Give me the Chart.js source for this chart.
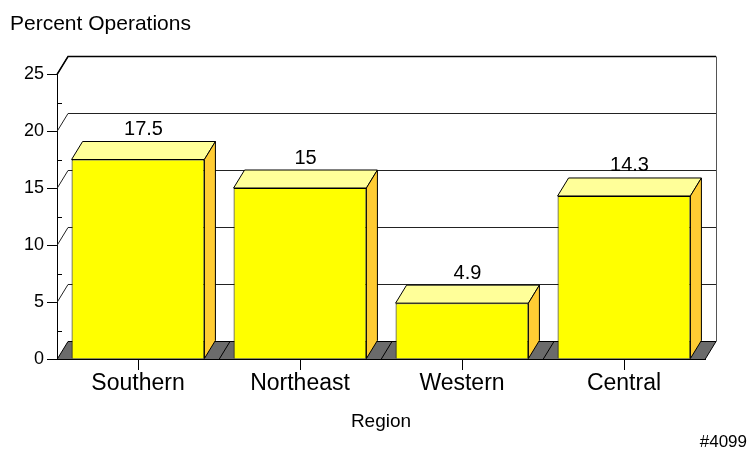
<!DOCTYPE html>
<html>
<head>
<meta charset="utf-8">
<script src="https://cdn.jsdelivr.net/npm/chart.js@4"></script>
<style>
  body { margin: 0; background: #fff; }
  canvas { display: block; }
</style>
</head>
<body>
<canvas id="chart" width="748" height="449"></canvas>
<script>
const regions = ['Southern', 'Northeast', 'Western', 'Central'];
const percentOps = [17.5, 15, 4.9, 14.3];
const yTicks = [0, 5, 10, 15, 20, 25];

const DX = 11, DY = 18; // depth of the fake 3d
const FONT = '"Liberation Sans", Arial, sans-serif';

// back wall, left wall lines and the grey floor
const wallPlugin = {
  id: 'wall',
  beforeDatasetsDraw(chart) {
    const ctx = chart.ctx;
    const y = chart.scales.y;
    const left = chart.chartArea.left, right = chart.chartArea.right;
    ctx.save();
    ctx.lineWidth = 1;
    ctx.strokeStyle = '#222';
    yTicks.forEach(v => {
      if (v === 0) return;
      const py = Math.round(y.getPixelForValue(v)) + 0.5;
      ctx.beginPath();
      ctx.moveTo(left, py);
      ctx.lineTo(left + DX, py - DY);
      ctx.lineTo(right + DX, py - DY);
      ctx.stroke();
    });
    // right edge of back wall
    const topY = Math.round(y.getPixelForValue(25)) + 0.5;
    const zeroY = Math.round(y.getPixelForValue(0)) + 0.5;
    ctx.strokeStyle = '#555';
    ctx.beginPath();
    ctx.moveTo(right + DX + 0.5, topY - DY);
    ctx.lineTo(right + DX + 0.5, zeroY - DY);
    ctx.stroke();
    // top edge a bit heavier
    ctx.strokeStyle = '#000';
    ctx.lineWidth = 1.5;
    ctx.beginPath();
    ctx.moveTo(left, topY);
    ctx.lineTo(left + DX, topY - DY);
    ctx.lineTo(right + DX, topY - DY);
    ctx.stroke();

    // floor
    ctx.lineWidth = 1;
    ctx.fillStyle = '#6b6b6b';
    ctx.strokeStyle = '#000';
    ctx.beginPath();
    ctx.moveTo(left, zeroY);
    ctx.lineTo(right, zeroY);
    ctx.lineTo(right + DX, zeroY - DY);
    ctx.lineTo(left + DX, zeroY - DY);
    ctx.closePath();
    ctx.fill();
    ctx.stroke();
    const step = (right - left) / regions.length;
    for (let i = 1; i < regions.length; i++) {
      const bx = left + step * i;
      ctx.beginPath();
      ctx.moveTo(bx, zeroY);
      ctx.lineTo(bx + DX, zeroY - DY);
      ctx.stroke();
    }
    // minor ticks on the y axis
    for (let v = 2.5; v < 25; v += 5) {
      const py = Math.round(y.getPixelForValue(v)) + 0.5;
      ctx.beginPath();
      ctx.moveTo(left, py);
      ctx.lineTo(left + 5, py);
      ctx.stroke();
    }
    ctx.restore();
  },
  afterDatasetsDraw(chart) {
    const ctx = chart.ctx;
    const meta = chart.getDatasetMeta(0);
    ctx.save();
    ctx.lineWidth = 1;
    ctx.strokeStyle = '#000';
    meta.data.forEach((bar, i) => {
      const p = bar.getProps(['x', 'y', 'base', 'width'], true);
      const l = p.x - p.width / 2, r = p.x + p.width / 2;
      // top face
      ctx.fillStyle = '#ffff99';
      ctx.beginPath();
      ctx.moveTo(l, p.y);
      ctx.lineTo(r, p.y);
      ctx.lineTo(r + DX, p.y - DY);
      ctx.lineTo(l + DX, p.y - DY);
      ctx.closePath();
      ctx.fill();
      ctx.stroke();
      // side face
      ctx.fillStyle = '#ffcc33';
      ctx.beginPath();
      ctx.moveTo(r, p.y);
      ctx.lineTo(r + DX, p.y - DY);
      ctx.lineTo(r + DX, p.base - DY);
      ctx.lineTo(r, p.base);
      ctx.closePath();
      ctx.fill();
      ctx.stroke();
      // value label
      ctx.fillStyle = '#000';
      ctx.font = '20px ' + FONT;
      ctx.textAlign = 'center';
      ctx.textBaseline = 'middle';
      ctx.fillText(String(percentOps[i]), p.x + DX / 2, p.y - DY - 12);
    });
    ctx.restore();
  },
  afterDraw(chart) {
    const ctx = chart.ctx;
    ctx.save();
    ctx.fillStyle = '#000';
    ctx.font = '21px ' + FONT;
    ctx.textAlign = 'left';
    ctx.textBaseline = 'alphabetic';
    ctx.fillText('Percent Operations', 10, 30);
    ctx.font = '17px ' + FONT;
    ctx.textAlign = 'right';
    ctx.fillText('#4099', 747, 447);
    ctx.restore();
  }
};

new Chart(document.getElementById('chart'), {
  type: 'bar',
  data: {
    labels: regions,
    datasets: [{
      data: percentOps,
      backgroundColor: '#ffff00',
      borderColor: '#000',
      borderWidth: 1,
      barPercentage: 0.82,
      categoryPercentage: 1.0
    }]
  },
  options: {
    responsive: false,
    animation: false,
    devicePixelRatio: 1,
    layout: { padding: { left: 0, top: 74, right: 43, bottom: 0 } },
    plugins: { legend: { display: false }, tooltip: { enabled: false } },
    scales: {
      x: {
        afterFit(scale) { scale.height = 90; },
        grid: { drawOnChartArea: false, offset: false, tickLength: 11, color: '#000' },
        border: { display: true, color: '#000' },
        ticks: { color: '#000', padding: 0, font: { family: FONT, size: 23 } },
        title: {
          display: true, text: 'Region', color: '#000',
          font: { family: FONT, size: 19 }, padding: { top: 0, bottom: 16 }
        }
      },
      y: {
        min: 0, max: 25,
        afterFit(scale) { scale.width = 57; },
        grid: { drawOnChartArea: false, tickLength: 10, color: '#000' },
        border: { display: true, color: '#000' },
        ticks: { stepSize: 5, color: '#000', padding: 3, font: { family: FONT, size: 18 } }
      }
    }
  },
  plugins: [wallPlugin]
});
</script>
</body>
</html>
